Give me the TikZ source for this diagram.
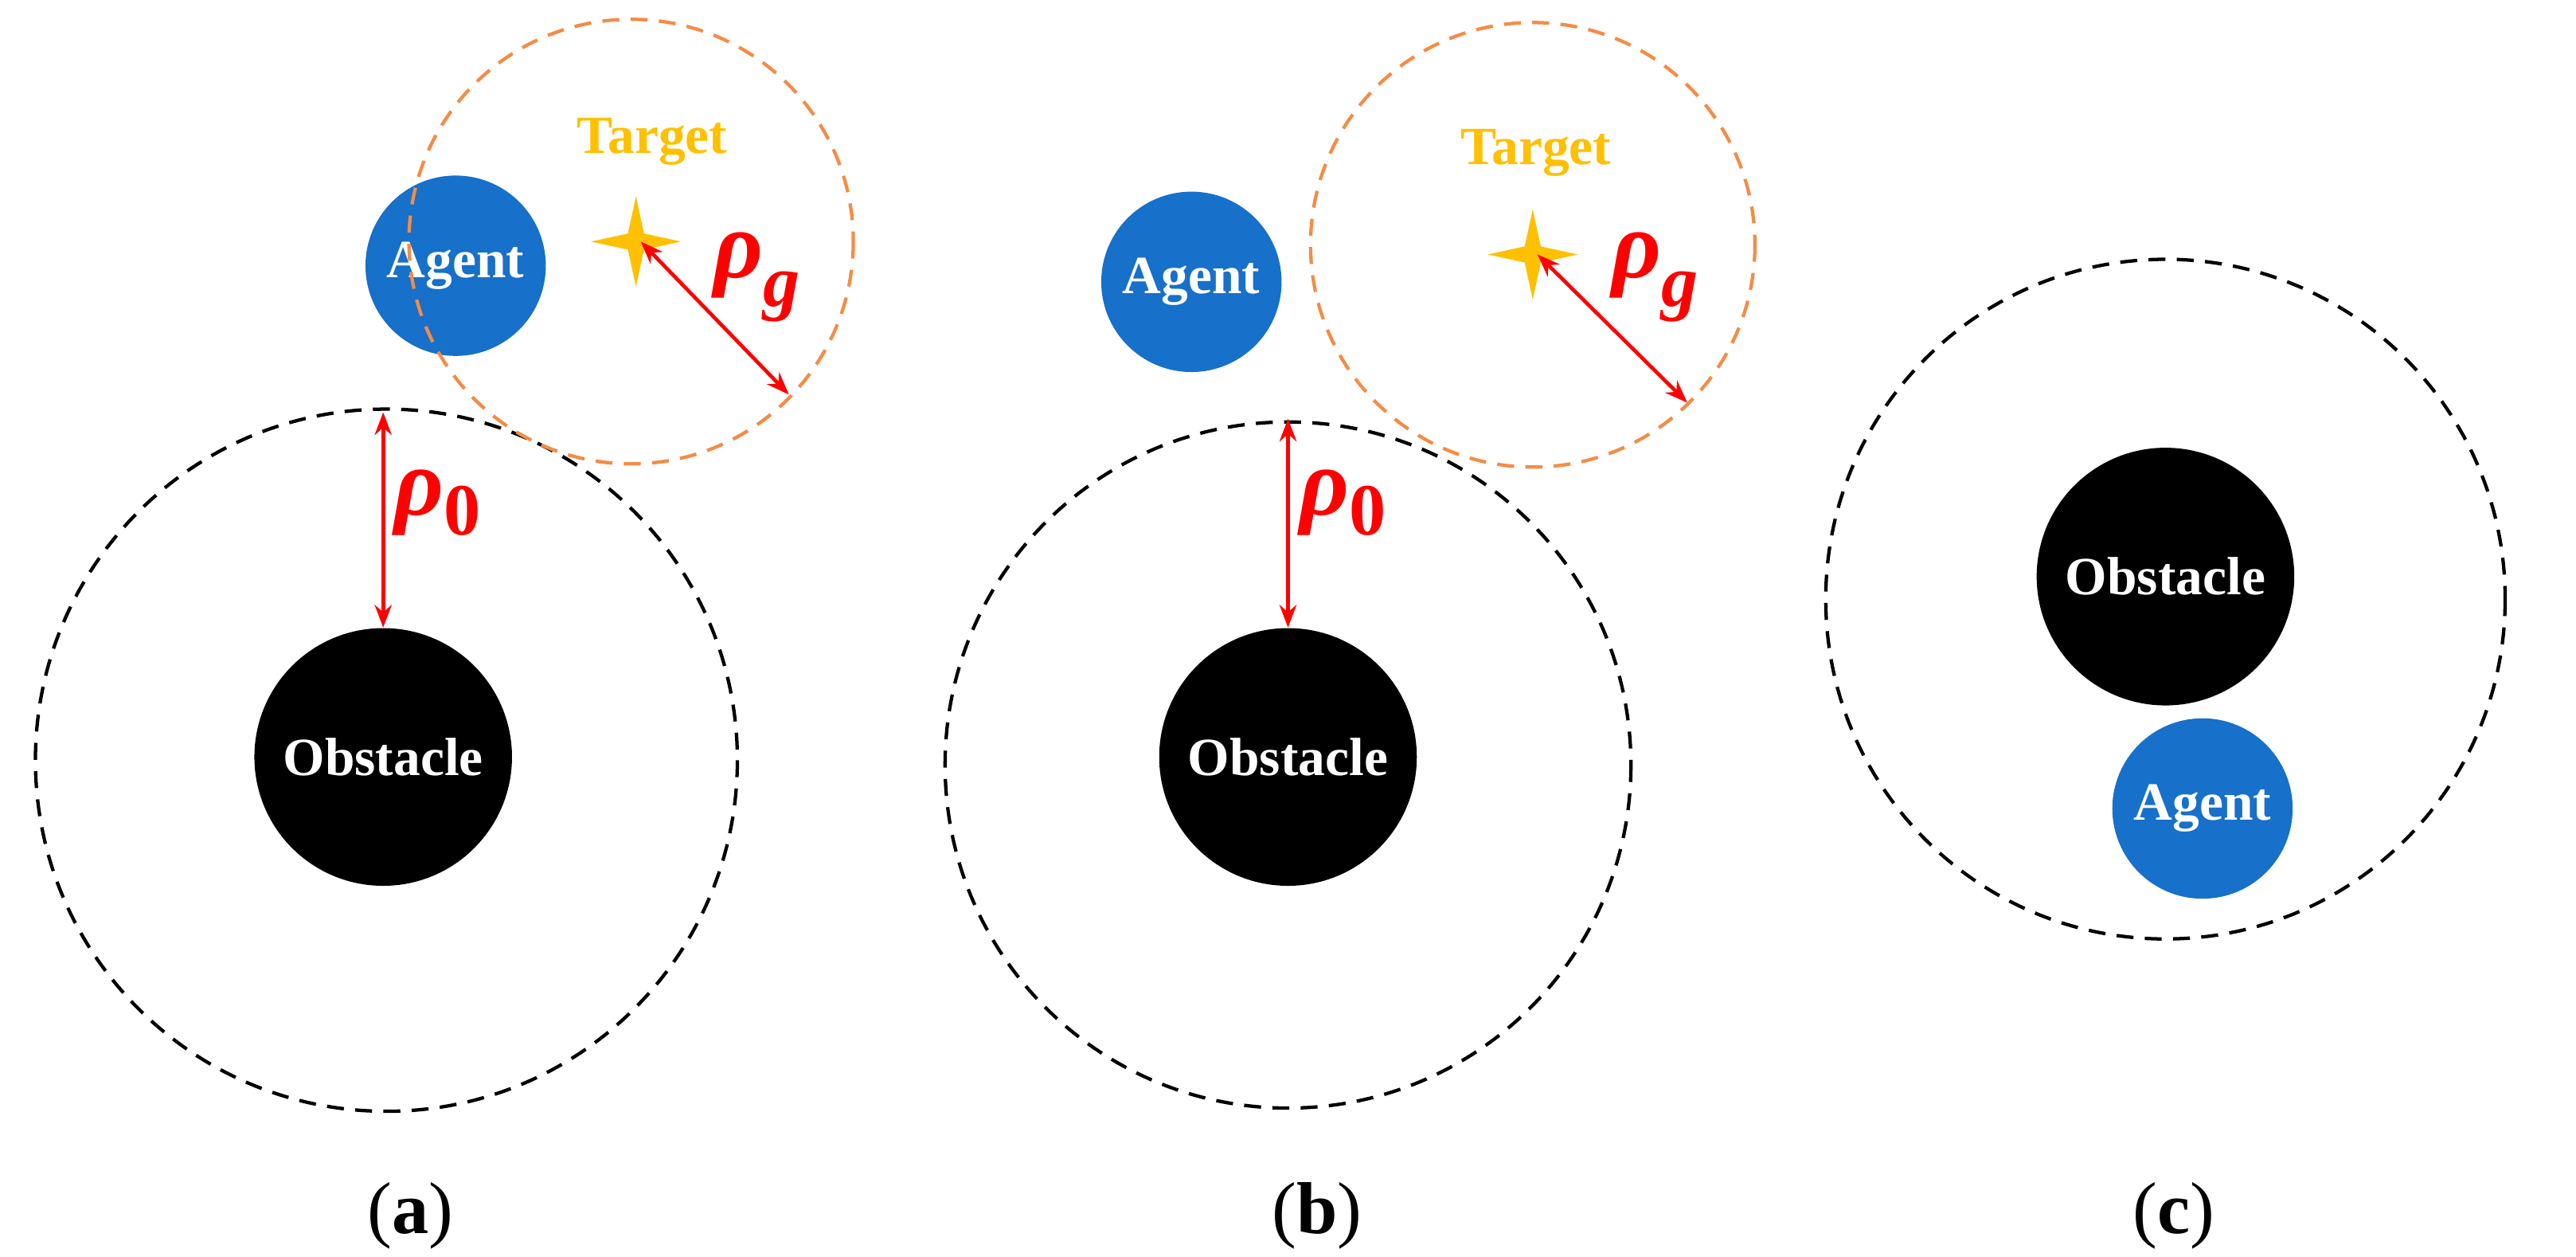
\documentclass[tikz,border=0pt]{standalone}
\usepackage{fontspec}
\setmainfont{Liberation Serif}
\usetikzlibrary{arrows.meta}
\begin{document}
\begin{tikzpicture}[x=0.02cm,y=-0.02cm,
  obs/.style={circle,fill=black,text=white,font=\bfseries\fontsize{19}{19}\selectfont,minimum size=160*0.02cm,inner sep=0},
  agent/.style={circle,fill=agentblue,text=white,font=\bfseries\fontsize{19}{19}\selectfont,minimum size=112*0.02cm,inner sep=0},
  zone/.style={black,dashed,line width=1.2pt,dash pattern=on 6pt off 4pt},
  gzone/.style={draw=goalc,line width=1.2pt,dash pattern=on 6pt off 4pt},
  rarr/.style={red,line width=1.3pt,{Stealth[length=8pt]}-{Stealth[length=8pt]}},
  rho/.style={text=red,font=\bfseries\itshape\fontsize{34}{34}\selectfont},
  tgt/.style={text=targetc,font=\bfseries\fontsize{19}{19}\selectfont},
  lbl/.style={font=\fontsize{26}{26}\selectfont}]
\definecolor{agentblue}{RGB}{23,112,201}
\definecolor{goalc}{RGB}{244,140,70}
\definecolor{targetc}{RGB}{255,192,0}
\useasboundingbox (0,0) rectangle (1600,780);
\newcommand{\mystar}[2]{\fill[targetc] (#1,#2) ++(0,-28) -- ++(5,23) -- ++(23,5) -- ++(-23,5) -- ++(-5,23) -- ++(-5,-23) -- ++(-23,-5) -- ++(23,-5) -- cycle;}
\newcommand{\subg}{\raisebox{-10pt}{\fontsize{26}{26}\selectfont g}}
\newcommand{\subz}{\raisebox{-7pt}{\fontsize{26}{26}\selectfont\upshape 0}}
% (a)
\draw[zone] (240,472) circle (218);
\node[obs] (oa) at (238,470) {Obstacle};
\node[agent] (aa) at (283,165) {Agent};
\draw[gzone] (392,150) circle (138);
\mystar{395}{150}
\coordinate (sa) at (398,150);
\coordinate (ea) at (490,245);
\draw[rarr] (sa) -- (ea);
\coordinate (ta) at (238,256);
\draw[rarr] (ta) -- (oa.north);
\node[rho] at (470,172) {ρ\subg};
\node[rho] at (272,312) {ρ\subz};
\node[tgt] at (405,88) {Target};
\node[lbl] at (255,755) {(\textbf{a})};
% (b)
\draw[zone] (800,475) circle (213);
\node[obs] (ob) at (800,470) {Obstacle};
\node[agent] (ab) at (740,175) {Agent};
\draw[gzone] (952,152) circle (138);
\mystar{952}{158}
\coordinate (sb) at (955,158);
\coordinate (eb) at (1048,250);
\draw[rarr] (sb) -- (eb);
\coordinate (tb) at (800,260);
\draw[rarr] (tb) -- (ob.north);
\node[rho] at (1028,172) {ρ\subg};
\node[rho] at (834,312) {ρ\subz};
\node[tgt] at (954,95) {Target};
\node[lbl] at (818,755) {(\textbf{b})};
% (c)
\draw[zone] (1345,372) circle (211);
\node[obs] (oc) at (1345,358) {Obstacle};
\node[agent] (ac) at (1368,502) {Agent};
\node[lbl] at (1350,755) {(\textbf{c})};
\end{tikzpicture}
\end{document}
